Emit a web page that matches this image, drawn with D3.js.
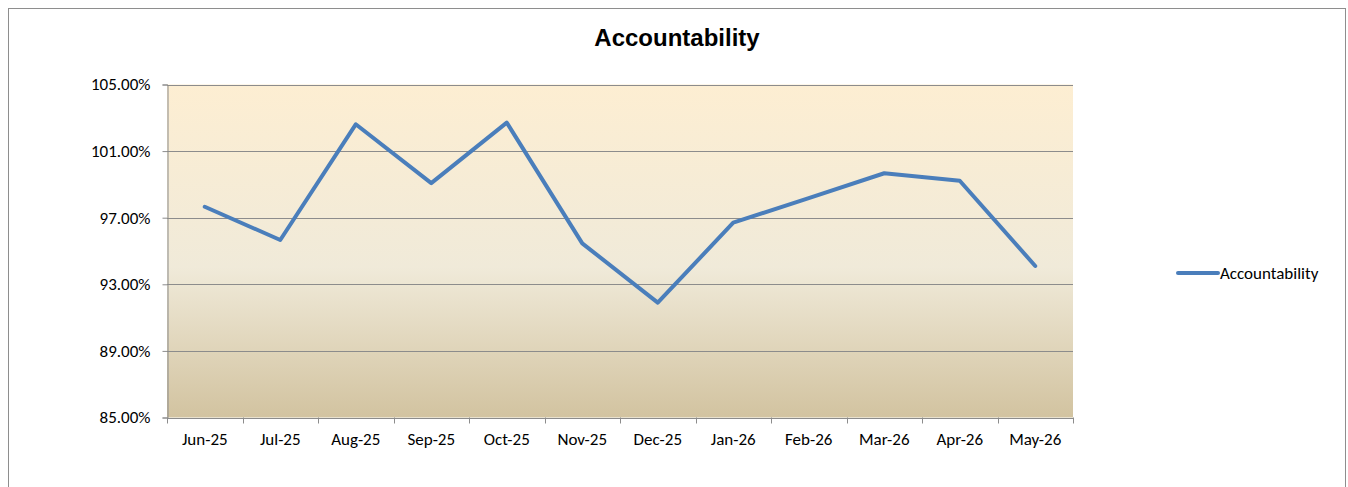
<!DOCTYPE html>
<html><head><meta charset="utf-8">
<script src="https://cdn.jsdelivr.net/npm/d3@7"></script>
<style>body{margin:0;background:#fff}svg{display:block}</style>
</head><body>
<script>
const categories = ["Jun-25","Jul-25","Aug-25","Sep-25","Oct-25","Nov-25","Dec-25","Jan-26","Feb-26","Mar-26","Apr-26","May-26"];
const values = [97.66, 95.66, 102.61, 99.08, 102.71, 95.46, 91.9, 96.7, 98.18, 99.67, 99.22, 94.1];
const yTicks = [85, 89, 93, 97, 101, 105];
const seriesName = "Accountability";

const W = 1348, H = 487;
const m = {left: 167, top: 84.5, right: 1073, bottom: 417.5};
const svg = d3.select("body").append("svg").attr("width", W).attr("height", H);
const font = "Carlito, Lato, 'Liberation Sans', sans-serif";
const fs = 17;

// outer frame
svg.append("rect").attr("x", 8.5).attr("y", 8.5).attr("width", 1337).attr("height", 490)
  .attr("fill", "#fff").attr("stroke", "#8e8e8e").attr("stroke-width", 1);

const defs = svg.append("defs");
const g = defs.append("linearGradient").attr("id", "bg").attr("x1", 0).attr("y1", 0).attr("x2", 0).attr("y2", 1);
g.append("stop").attr("offset", "0%").attr("stop-color", "#fdeed2");
g.append("stop").attr("offset", "55%").attr("stop-color", "#f0ead9");
g.append("stop").attr("offset", "100%").attr("stop-color", "#d2c3a0");

const x = d3.scaleBand().domain(categories).range([m.left, m.right]);
const y = d3.scaleLinear().domain([85, 105]).range([m.bottom, m.top]);

svg.append("rect").attr("x", m.left).attr("y", m.top).attr("width", m.right - m.left)
  .attr("height", m.bottom - m.top).attr("fill", "url(#bg)");

// gridlines
svg.append("g").selectAll("line").data(yTicks).join("line")
  .attr("x1", m.left).attr("x2", m.right)
  .attr("y1", d => Math.round(y(d)) + 0.5).attr("y2", d => Math.round(y(d)) + 0.5)
  .attr("stroke", "#8c8c8c").attr("stroke-width", 1);

// y axis
const yAxis = svg.append("g").attr("transform", `translate(${m.left + 0.5},0)`)
  .call(d3.axisLeft(y).tickValues(yTicks).tickSize(5).tickPadding(12).tickFormat(d => d.toFixed(2) + "%"));
yAxis.select(".domain").attr("stroke", "#8c8c8c");
yAxis.selectAll(".tick line").attr("stroke", "#8c8c8c");
yAxis.selectAll("text").attr("font-family", font).attr("font-size", fs).attr("fill", "#000");

// x axis
const xAxis = svg.append("g").attr("transform", `translate(0,${m.bottom + 0.5})`)
  .call(d3.axisBottom(x).tickSize(0).tickPadding(15));
xAxis.select(".domain").attr("stroke", "#8c8c8c");
xAxis.selectAll("text").attr("font-family", font).attr("font-size", fs).attr("fill", "#000");
// category boundary ticks
svg.append("g").selectAll("line").data(d3.range(categories.length + 1)).join("line")
  .attr("x1", i => Math.round(m.left + i * x.step()) + 0.5).attr("x2", i => Math.round(m.left + i * x.step()) + 0.5)
  .attr("y1", m.bottom).attr("y2", m.bottom + 6).attr("stroke", "#8c8c8c");

// line
const line = d3.line().x((d, i) => x(categories[i]) + x.bandwidth() / 2).y(d => y(d));
svg.append("path").datum(values).attr("d", line).attr("fill", "none")
  .attr("stroke", "#4a7ebb").attr("stroke-width", 4).attr("stroke-linejoin", "round").attr("stroke-linecap", "round");

// title
svg.append("text").attr("x", 677).attr("y", 46).attr("text-anchor", "middle")
  .attr("font-family", "'Liberation Sans', Arial, sans-serif").attr("font-weight", "bold").attr("font-size", 24)
  .text(seriesName);

// legend
svg.append("line").attr("x1", 1178).attr("x2", 1218).attr("y1", 273).attr("y2", 273)
  .attr("stroke", "#4a7ebb").attr("stroke-width", 4).attr("stroke-linecap", "round");
svg.append("text").attr("x", 1220).attr("y", 279).attr("font-family", font).attr("font-size", fs)
  .text(seriesName);
</script>
</body></html>
